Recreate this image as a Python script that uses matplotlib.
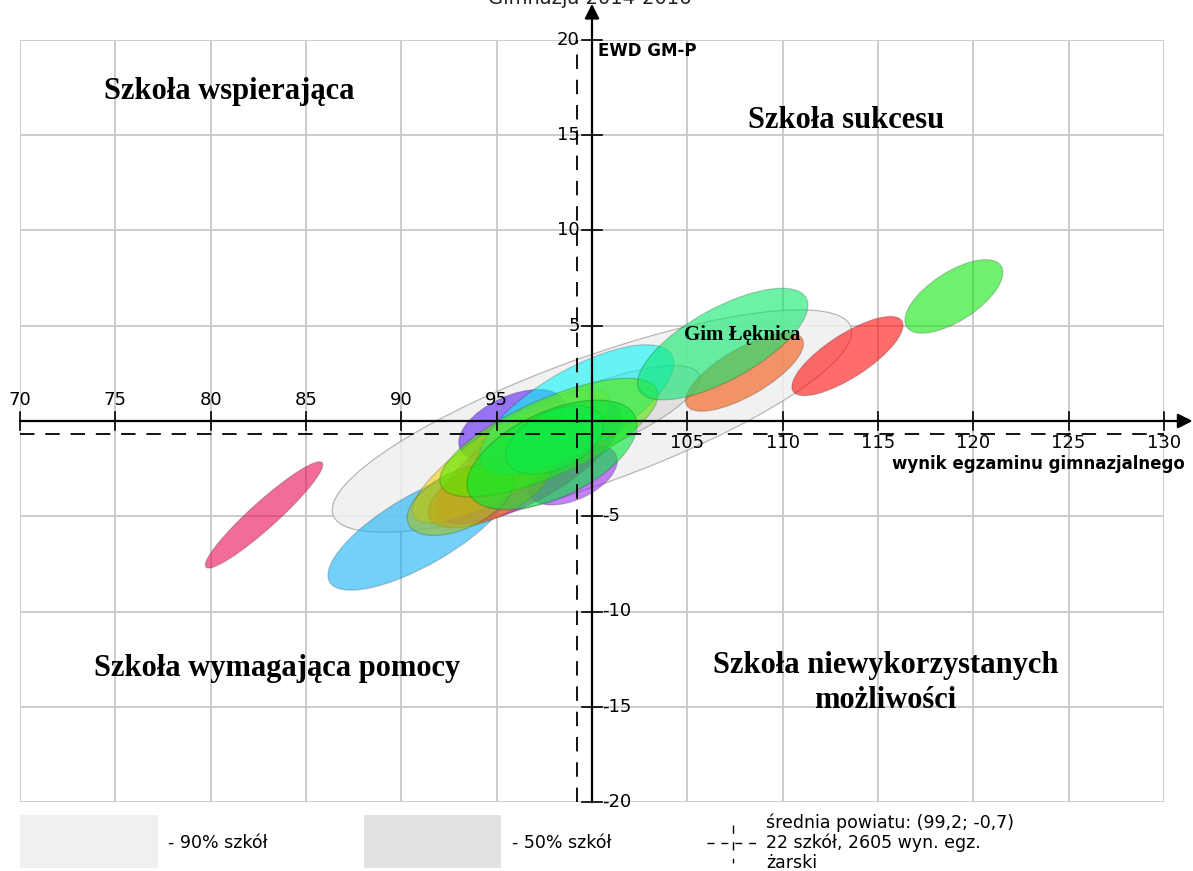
import matplotlib
matplotlib.use("Agg")
import matplotlib.pyplot as plt
from matplotlib.patches import Ellipse, Rectangle
from matplotlib.lines import Line2D
from matplotlib.colors import to_rgba

# ---- data ----
x_ticks = [70, 75, 80, 85, 90, 95, 105, 110, 115, 120, 125, 130]
y_ticks = [20, 15, 10, 5, -5, -10, -15, -20]

# population ellipses (90% and 50% of schools)
pop_x = [100.0, 99.6]
pop_y = [0.0, 0.0]
pop_w = [28.9, 13.0]
pop_h = [6.6, 3.4]
pop_angle = [20, 22]
pop_colors = ['#efefef', '#dedede']

# school ellipses
school_x = [82.8, 91.0, 95.8, 99.0, 96.7, 95.75, 94.65, 93.1, 99.2, 97.74, 98.05, 97.9, 108.0, 106.86, 113.4, 118.98]
school_y = [-4.93, -5.7, -0.2, -2.83, -2.15, -1.84, -3.6, -4.15, 0.6, -0.87, -1.0, -1.78, 2.57, 4.04, 3.41, 6.54]
school_w = [8.2, 11.0, 6.0, 5.0, 11.0, 12.0, 7.0, 6.0, 11.5, 12.4, 5.5, 9.6, 7.0, 10.0, 6.8, 5.9]
school_h = [1.4, 3.7, 3.0, 2.6, 4.0, 3.5, 3.0, 3.0, 4.2, 4.0, 3.0, 4.5, 2.5, 3.76, 2.27, 2.56]
school_angle = [42, 30, 25, 25, 30, 32, 25, 25, 30, 24, 25, 25, 30, 29, 33, 33]
school_colors = ['#e80b55', '#14b1f5', '#5a20f0', '#9b30f0', '#d800d8', '#f0d00b', '#f08000',
                 '#a0c020', '#0bf5f5', '#55e800', '#20f060', '#00e835', '#f3550b', '#0be86d',
                 '#ff0b0b', '#10e810']

mean_x, mean_y = 99.2, -0.7

W, H = 1193, 871
fig = plt.figure(figsize=(W / 100, H / 100), dpi=100)
ax = fig.add_axes([20 / W, 1 - 802 / H, 1144 / W, 762 / H])
ax.set_xlim(70, 130)
ax.set_ylim(-20, 20)
for s in ax.spines.values():
    s.set_visible(False)
ax.set_xticks(range(70, 131, 5))
ax.set_yticks(range(-20, 21, 5))
ax.tick_params(length=0, labelbottom=False, labelleft=False)
ax.grid(True, color='#c8c8c8', lw=1.3)
ax.set_axisbelow(True)

# population ellipses
for cx, cy, w, h, a, c in zip(pop_x, pop_y, pop_w, pop_h, pop_angle, pop_colors):
    ax.add_patch(Ellipse((cx, cy), w, h, angle=a, facecolor=to_rgba(c, 0.85),
                         edgecolor=(0.55, 0.55, 0.55, 0.6), lw=0.9, zorder=2))

# school ellipses
for cx, cy, w, h, a, c in zip(school_x, school_y, school_w, school_h, school_angle, school_colors):
    ax.add_patch(Ellipse((cx, cy), w, h, angle=a, facecolor=to_rgba(c, 0.6),
                         edgecolor=(0, 0, 0, 0.18), lw=0.9, zorder=3))

# mean lines
ax.plot([mean_x, mean_x], [-20, 20], color='k', lw=1.3, ls=(0, (8, 6)), zorder=4)
ax.plot([70, 130], [mean_y, mean_y], color='k', lw=1.3, ls=(0, (8, 6)), zorder=4)

# main axes with arrows
ax.annotate('', xy=(131.5, 0), xytext=(70, 0),
            arrowprops=dict(arrowstyle='-|>', color='k', lw=1.6, mutation_scale=22,
                            shrinkA=0, shrinkB=0), annotation_clip=False, zorder=5)
ax.annotate('', xy=(100, 21.9), xytext=(100, -20),
            arrowprops=dict(arrowstyle='-|>', color='k', lw=1.6, mutation_scale=22,
                            shrinkA=0, shrinkB=0), annotation_clip=False, zorder=5)

# tick crosses and labels
for x in x_ticks:
    ax.plot([x, x], [-0.45, 0.45], color='k', lw=1.2, zorder=5, clip_on=False)
    if x < 100:
        ax.text(x, 0.65, str(x), ha='center', va='bottom', fontsize=13, zorder=6)
    else:
        ax.text(x, -0.7, str(x), ha='center', va='top', fontsize=13, zorder=6)
for y in y_ticks:
    ax.plot([99.5, 100.5], [y, y], color='k', lw=1.2, zorder=5, clip_on=False)
    if y > 0:
        ax.text(99.35, y, str(y), ha='right', va='center', fontsize=13, zorder=6)
    else:
        ax.text(100.55, y, str(y), ha='left', va='center', fontsize=13, zorder=6)

# axis titles
ax.text(100.3, 19.4, 'EWD GM-P', ha='left', va='center', fontsize=12, fontweight='bold', zorder=6)
ax.text(131.1, -2.25, 'wynik egzaminu gimnazjalnego', ha='right', va='center',
        fontsize=12, fontweight='bold', zorder=6, clip_on=False)

# quadrant labels
qfont = dict(family='Liberation Serif', fontweight='bold', fontsize=22, zorder=6)
ax.text(81.0, 17.3, 'Szkoła wspierająca', ha='center', va='center', **qfont)
ax.text(113.3, 15.75, 'Szkoła sukcesu', ha='center', va='center', **qfont)
ax.text(83.5, -13.0, 'Szkoła wymagająca pomocy', ha='center', va='center', **qfont)
ax.text(115.4, -13.75, 'Szkoła niewykorzystanych\nmożliwości', ha='center', va='center',
        linespacing=1.25, **qfont)
ax.text(107.9, 4.5, 'Gim Łęknica', ha='center', va='center', family='Liberation Serif',
        fontweight='bold', fontsize=15, zorder=7)

# cut-off title at very top
fig.text(590 / W, 1 - 4 / H, 'Gimnazja 2014-2016', ha='center', va='baseline', fontsize=14,
         color='#222222')

# legend at bottom
lfs = 12.5
fig.patches.append(Rectangle((20 / W, 1 - 868 / H), 138 / W, 53 / H, transform=fig.transFigure,
                             facecolor='#f0f0f0', edgecolor='none'))
fig.text(168 / W, 1 - 843 / H, '- 90% szkół', ha='left', va='center', fontsize=lfs)
fig.patches.append(Rectangle((364 / W, 1 - 868 / H), 137 / W, 53 / H, transform=fig.transFigure,
                             facecolor='#e2e2e2', edgecolor='none'))
fig.text(512 / W, 1 - 843 / H, '- 50% szkół', ha='left', va='center', fontsize=lfs)
fig.lines.append(Line2D([707 / W, 757 / W], [1 - 843 / H, 1 - 843 / H], transform=fig.transFigure,
                        color='k', lw=1.0, ls=(0, (5, 5))))
fig.lines.append(Line2D([733 / W, 733 / W], [1 - 825 / H, 1 - 863 / H], transform=fig.transFigure,
                        color='k', lw=1.0, ls=(0, (6, 6))))
fig.text(766 / W, 1 - 823 / H, 'średnia powiatu: (99,2; -0,7)', ha='left', va='center', fontsize=lfs)
fig.text(766 / W, 1 - 843 / H, '22 szkół, 2605 wyn. egz.', ha='left', va='center', fontsize=lfs)
fig.text(766 / W, 1 - 863 / H, 'żarski', ha='left', va='center', fontsize=lfs)

fig.savefig('out.png', dpi=100)
